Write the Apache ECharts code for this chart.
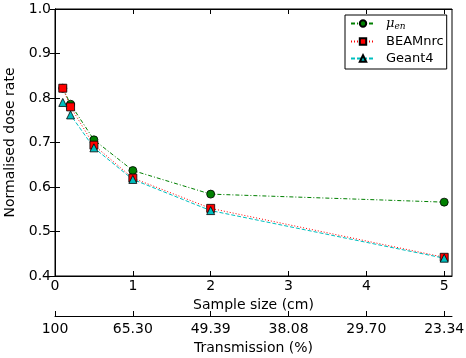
<!DOCTYPE html>
<html>
<head>
<meta charset="utf-8">
<script src="https://cdn.jsdelivr.net/npm/echarts@6/dist/echarts.min.js"></script>
<style>
html, body { margin: 0; padding: 0; background: #fff; }
#chart { width: 466px; height: 358px; }
</style>
</head>
<body>
<div id="chart"></div>
<script>
// Sample thickness (cm) and normalised dose rates
const sizes = [0.1, 0.2, 0.5, 1, 2, 5];
const muEn = [0.822, 0.786, 0.706, 0.637, 0.584, 0.566];
const beamnrc = [0.822, 0.780, 0.694, 0.620, 0.552, 0.442];
const geant4 = [0.790, 0.762, 0.688, 0.617, 0.547, 0.440];

// Tick labels
const sizeTicks = [0, 1, 2, 3, 4, 5];
const transmissionLabels = ['100', '65.30', '49.39', '38.08', '29.70', '23.34'];

const font = 'DejaVu Sans';
const pair = (xs, ys) => xs.map((x, i) => [x, ys[i]]);

const chart = echarts.init(document.getElementById('chart'), null, { renderer: 'canvas' });

const baseX = {
  type: 'value', min: 0, max: 5.1, gridIndex: 0,
  axisLine: { show: true, onZero: false, lineStyle: { color: '#000', width: 1 } },
  axisTick: { show: true, inside: true, length: 5, lineStyle: { color: '#000' }, customValues: sizeTicks },
  splitLine: { show: false }
};

chart.setOption({
  animation: false,
  backgroundColor: '#fff',
  textStyle: { fontFamily: font },
  grid: {
    left: 55, right: 14, top: 9, bottom: 82,
    outerBoundsMode: 'none', containLabel: false,
    show: true, borderColor: '#000', borderWidth: 1, backgroundColor: 'transparent'
  },
  legend: {
    orient: 'vertical',
    left: 345, top: 15,
    itemWidth: 24, itemHeight: 8, itemGap: 4,
    padding: [2, 3, 4, 5],
    borderColor: '#000', borderWidth: 1, backgroundColor: '#fff',
    textStyle: {
      fontFamily: font, fontSize: 13, color: '#000', padding: [0, 0, 0, 6],
      rich: {
        mu: { fontFamily: 'DejaVu Serif', fontStyle: 'italic', fontSize: 13, color: '#000' },
        sub: { fontFamily: 'DejaVu Serif', fontStyle: 'italic', fontSize: 9, color: '#000', verticalAlign: 'bottom', padding: [6, 0, 0, 0] }
      }
    },
    formatter: name => name === 'mu_en' ? '{mu|μ}{sub|en}' : name,
    data: ['mu_en', 'BEAMnrc', 'Geant4']
  },
  xAxis: [
    Object.assign({}, baseX, {
      position: 'bottom',
      name: 'Sample size (cm)', nameLocation: 'middle', nameGap: 22,
      nameTextStyle: { fontFamily: font, fontSize: 14, color: '#000' },
      axisLabel: {
        show: true, fontFamily: font, fontSize: 14, color: '#000', margin: 3,
        customValues: sizeTicks, formatter: v => String(v)
      }
    }),
    Object.assign({}, baseX, {
      position: 'bottom', offset: 40,
      name: 'Transmission (%)', nameLocation: 'middle', nameGap: 24,
      nameTextStyle: { fontFamily: font, fontSize: 14, color: '#000' },
      axisLabel: {
        show: true, fontFamily: font, fontSize: 14, color: '#000', margin: 6,
        customValues: sizeTicks, formatter: v => transmissionLabels[Math.round(v)]
      }
    }),
    Object.assign({}, baseX, {
      position: 'top',
      axisLabel: { show: false }
    })
  ],
  yAxis: [
    {
      type: 'value', min: 0.4, max: 1.0, interval: 0.1, position: 'left',
      name: 'Normalised dose rate', nameLocation: 'middle', nameGap: 38,
      nameTextStyle: { fontFamily: font, fontSize: 14, color: '#000' },
      axisLine: { show: true, lineStyle: { color: '#000' } },
      axisTick: { show: true, inside: true, length: 5, lineStyle: { color: '#000' } },
      axisLabel: { fontFamily: font, fontSize: 14, color: '#000', margin: 4, formatter: v => v.toFixed(1) },
      splitLine: { show: false }
    },
    {
      type: 'value', min: 0.4, max: 1.0, interval: 0.1, position: 'right',
      axisLine: { show: true, lineStyle: { color: '#000' } },
      axisTick: { show: true, inside: true, length: 5, lineStyle: { color: '#000' } },
      axisLabel: { show: false },
      splitLine: { show: false }
    }
  ],
  series: [
    {
      name: 'mu_en', type: 'line', data: pair(sizes, muEn),
      symbol: 'circle', symbolSize: 8,
      itemStyle: { color: '#008000', borderColor: '#000', borderWidth: 0.8 },
      lineStyle: { color: '#008000', width: 1, type: [4, 2, 1, 2] }
    },
    {
      name: 'BEAMnrc', type: 'line', data: pair(sizes, beamnrc),
      symbol: 'rect', symbolSize: 8,
      itemStyle: { color: '#ff0000', borderColor: '#000', borderWidth: 0.8 },
      lineStyle: { color: '#ff0000', width: 1, type: [1, 2] }
    },
    {
      name: 'Geant4', type: 'line', data: pair(sizes, geant4),
      symbol: 'triangle', symbolSize: 8,
      itemStyle: { color: '#00bfbf', borderColor: '#000', borderWidth: 0.8 },
      lineStyle: { color: '#00bfbf', width: 1, type: [4, 2] }
    }
  ]
});
</script>
</body>
</html>
